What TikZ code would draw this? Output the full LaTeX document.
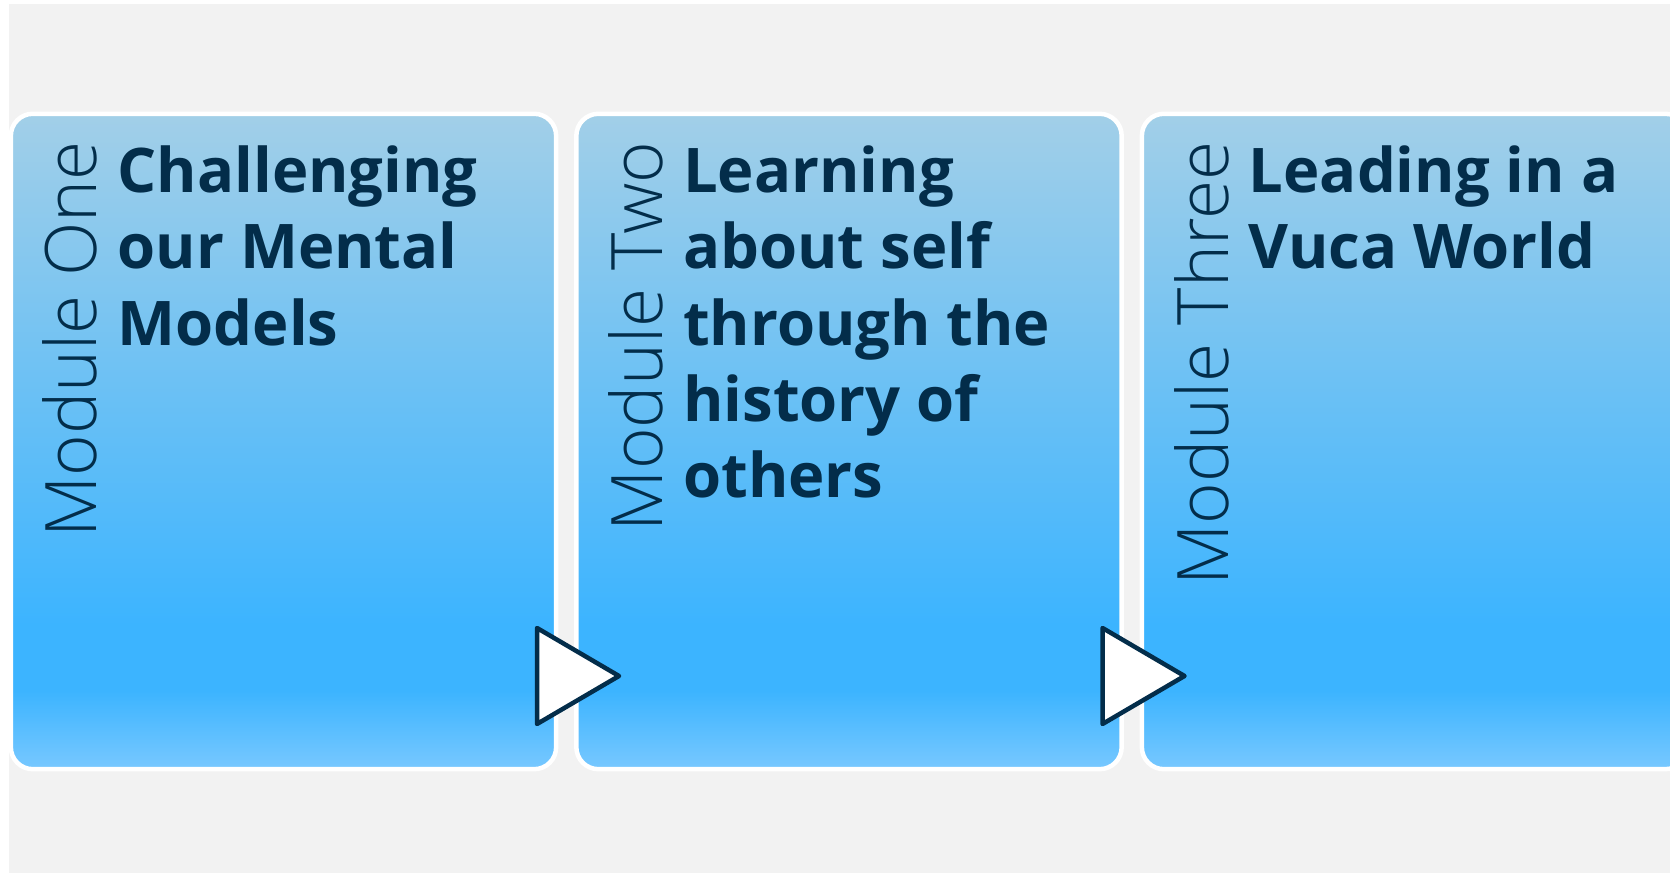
\documentclass[tikz,border=0pt]{standalone}
\usepackage{fontspec}
\setmainfont{Open Sans}
\newfontfamily\modfont{Open Sans Light}
\usepackage{tikz}
\usepackage{xcolor}

\definecolor{navy}{RGB}{3,45,74}
\definecolor{bggrey}{RGB}{242,242,242}
\definecolor{boxtop}{RGB}{162,207,232}
\definecolor{boxmid}{RGB}{60,180,255}
\definecolor{boxbot}{RGB}{120,200,255}

% vertical fill of the module boxes (25bp = bottom, 75bp = top)
\pgfdeclareverticalshading{modfill}{100bp}{color(0bp)=(boxbot); color(25bp)=(boxbot);
  color(31bp)=(boxmid); color(36bp)=(boxmid); color(75bp)=(boxtop); color(100bp)=(boxtop)}

\begin{document}
\begin{tikzpicture}[x=0.01cm, y=-0.01cm,
  modbox/.style={draw=white, line width=0.045cm, rounded corners=0.22cm,
    shade, shading=modfill, minimum width=5.45cm, minimum height=6.55cm, inner sep=0pt},
  modlabel/.style={rotate=90, anchor=base east, inner sep=0pt, text=navy,
    font=\modfont\fontsize{20.2}{24}\selectfont},
  modtitle/.style={anchor=north west, align=left, inner sep=0pt, text=navy,
    font=\bfseries\fontsize{17.5}{21.7}\selectfont},
  modarrow/.style={draw=navy, fill=white, line width=0.045cm, line join=round}]

  \useasboundingbox (0,0) rectangle (1670,874);

  % Background
  \fill[white] (0,0) rectangle (1670,874);
  \fill[bggrey] (9,4) rectangle (1670,873);

  % Module boxes
  \node[modbox] (box1) at (283.5,441.5) {};
  \node[modbox] (box2) at (849,441.5) {};
  \node[modbox] (box3) at (1414.5,441.5) {};

  % Module one
  \node[modlabel] (lab1) at (97,141) {Module One};
  \node[modtitle] (title1) at (117,145) {Challenging\\our Mental\\Models};

  % Module two
  \node[modlabel] (lab2) at (662.5,141) {Module Two};
  \node[modtitle] (title2) at (682.5,145) {Learning\\about self\\through the\\history of\\others};

  % Module three
  \node[modlabel] (lab3) at (1228,141) {Module Three};
  \node[modtitle] (title3) at (1248,145) {Leading in a\\Vuca World};

  % Arrows between modules
  \draw[modarrow] (537,628) -- (619,676) -- (537,724) -- cycle;
  \draw[modarrow] (1102.5,628) -- (1184.5,676) -- (1102.5,724) -- cycle;

\end{tikzpicture}
\end{document}
